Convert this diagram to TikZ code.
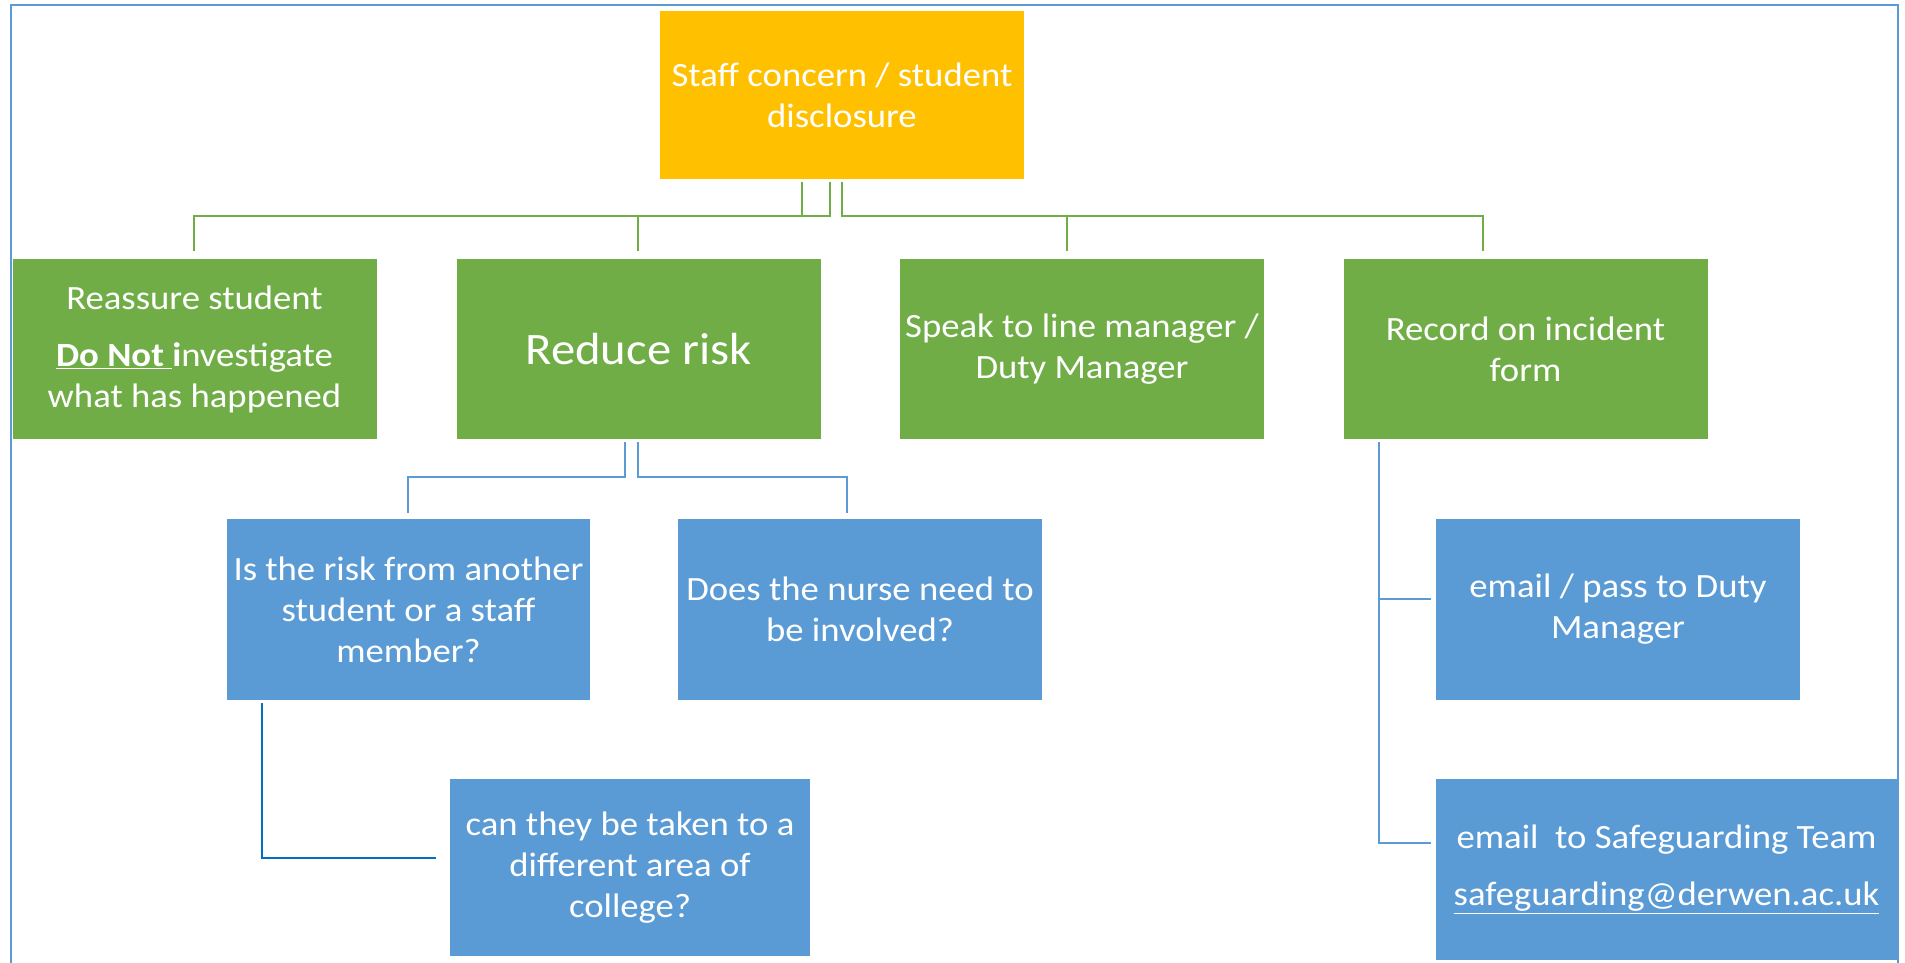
\documentclass[tikz,border=0pt]{standalone}
\usepackage{fontspec}
\setmainfont{Carlito}[FakeStretch=1.08]
\definecolor{orng}{HTML}{FFC000}
\definecolor{grn}{HTML}{70AD47}
\definecolor{blu}{HTML}{5B9BD5}
\definecolor{dblu}{HTML}{0070C0}
\begin{document}
\begin{tikzpicture}[x=1pt,y=-1pt,
  box/.style={rectangle, inner sep=0pt, text=white, align=center,
    font=\fontsize{34}{41}\selectfont},
  obox/.style={box, fill=orng},
  gbox/.style={box, fill=grn, minimum width=364pt, minimum height=180pt},
  bbox/.style={box, fill=blu, minimum height=181pt},
  gline/.style={draw=grn, line width=2pt},
  bline/.style={draw=blu, line width=2.5pt},
  dline/.style={draw=dblu, line width=2.5pt},
  frame/.style={draw=blu, line width=2pt}]
\useasboundingbox (0,0) rectangle (1905,963);
% frame
\coordinate (f1) at (11,963);
\coordinate (f2) at (11,5);
\coordinate (f3) at (1898,5);
\coordinate (f4) at (1898,963);
\draw[frame] (f1) -- (f2) -- (f3) -- (f4);
% nodes
\node[obox, minimum width=364pt, minimum height=168pt] (top) at (842,95) {Staff concern / student\\disclosure};
\node[gbox] (g1) at (194.5,349) {Reassure student\\[16pt]\textbf{\underline{Do Not }i}nvestigate\\what has happened};
\node[gbox, font=\fontsize{45}{54}\selectfont] (g2) at (638.5,349) {Reduce risk};
\node[gbox] (g3) at (1082,349) {Speak to line manager /\\Duty Manager};
\node[gbox] (g4) at (1525.5,349) {Record on incident\\form};
\node[bbox, minimum width=363pt] (b1) at (408.5,609.5) {Is the risk from another\\student or a staff\\member?};
\node[bbox, minimum width=364pt] (b2) at (860,609.5) {Does the nurse need to\\be involved?};
\node[bbox, minimum width=364pt] (b3) at (1618,609.5) {email / pass to Duty\\Manager};
\node[bbox, minimum width=360pt, minimum height=177pt] (b5) at (630,867.5) {can they be taken to a\\different area of\\college?};
\node[bbox, minimum width=461pt] (b4) at (1666.5,869.5) {email\ \ to Safeguarding Team\\[16pt]\underline{safeguarding@derwen.ac.uk}};
% green connectors
\coordinate (ta) at (802,182);
\coordinate (tb) at (830,182);
\coordinate (tc) at (842,182);
\coordinate (ha) at (802,216);
\coordinate (hb) at (830,216);
\coordinate (hc) at (842,216);
\coordinate (h1) at (194,216);
\coordinate (d1) at (194,251);
\coordinate (h2) at (638,216);
\coordinate (d2) at (638,251);
\coordinate (h3) at (1067,216);
\coordinate (d3) at (1067,251);
\coordinate (h4) at (1483,216);
\coordinate (d4) at (1483,251);
\draw[gline] (tb) -- (hb) -- (h1) -- (d1);
\draw[gline] (ta) -- (ha);
\draw[gline] (h2) -- (d2);
\draw[gline] (tc) -- (hc) -- (h4) -- (d4);
\draw[gline] (h3) -- (d3);
% blue connectors from Reduce risk
\coordinate (ra) at (625,442);
\coordinate (rb) at (638,442);
\coordinate (ra2) at (625,477);
\coordinate (rb2) at (638,477);
\coordinate (la) at (408,477);
\coordinate (la2) at (408,513);
\coordinate (lb) at (847,477);
\coordinate (lb2) at (847,513);
\draw[bline] (ra) -- (ra2) -- (la) -- (la2);
\draw[bline] (rb) -- (rb2) -- (lb) -- (lb2);
% bottom-left connector
\coordinate (q1) at (262,703);
\coordinate (q2) at (262,858);
\coordinate (q3) at (436,858);
\draw[dline] (q1) -- (q2) -- (q3);
% right side connectors
\coordinate (s1) at (1379,442);
\coordinate (s2) at (1379,599);
\coordinate (s3) at (1379,843);
\coordinate (e1) at (1431,599);
\coordinate (e2) at (1431,843);
\draw[bline] (s1) -- (s3) -- (e2);
\draw[bline] (s2) -- (e1);
\end{tikzpicture}
\end{document}
